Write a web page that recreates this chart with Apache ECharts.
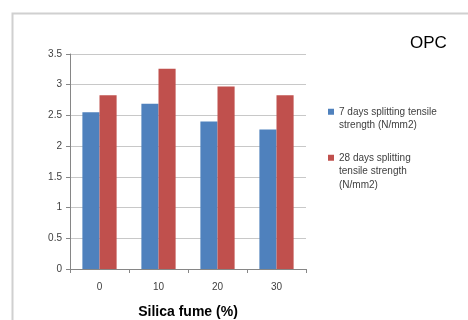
<!DOCTYPE html>
<html><head><meta charset="utf-8">
<script src="https://cdn.jsdelivr.net/npm/echarts@6/dist/echarts.min.js"></script>
<style>html,body{margin:0;padding:0;background:#fff}#c{width:468px;height:320px}</style>
</head><body><div id="c"></div>
<script>
var categories = ['0', '10', '20', '30'];
var days7 = [2.55, 2.69, 2.40, 2.27];
var days28 = [2.83, 3.26, 2.97, 2.83];
var seriesNames = ['7 days splitting tensile\nstrength (N/mm2)', '28 days splitting\ntensile strength\n(N/mm2)'];
var chartTitle = 'OPC';
var xTitle = 'Silica fume (%)';

var font = '"Liberation Sans", Arial, sans-serif';
var chart = echarts.init(document.getElementById('c'), null, {renderer: 'canvas'});
var legendText = {fontFamily: font, fontSize: 10, color: '#404040', lineHeight: 13.5};
function topAligned(name) {
  var n = name.split('\n').length;
  var pre = '';
  for (var i = 1; i < n; i++) pre += ' \n';
  return pre + name;
}
chart.setOption({
  animation: false,
  backgroundColor: '#fff',
  title: {
    text: chartTitle, left: 410, top: 35, padding: 0,
    textStyle: {fontFamily: font, fontSize: 17, fontWeight: 'normal', color: '#000'}
  },
  graphic: [{
    type: 'rect', left: 10, top: 11, silent: true,
    shape: {width: 480, height: 330},
    style: {fill: 'none', stroke: '#d0d0d0', lineWidth: 2}
  }],
  legend: [{
    data: [seriesNames[0]], orient: 'vertical', left: 328, top: 91.5, padding: 0,
    itemWidth: 6, itemHeight: 6, icon: 'rect', selectedMode: false,
    formatter: topAligned, textStyle: legendText
  }, {
    data: [seriesNames[1]], orient: 'vertical', left: 328, top: 124, padding: 0,
    itemWidth: 6, itemHeight: 6, icon: 'rect', selectedMode: false,
    formatter: topAligned, textStyle: legendText
  }],
  grid: {left: 70, right: 162, top: 54, bottom: 51, containLabel: false, outerBoundsMode: 'none'},
  xAxis: {
    type: 'category', data: categories,
    name: xTitle, nameLocation: 'middle', nameGap: 36,
    nameTextStyle: {fontFamily: font, fontSize: 14, fontWeight: 'bold', color: '#000'},
    axisLine: {lineStyle: {color: '#868686', width: 1}},
    axisTick: {show: true, length: 4, lineStyle: {color: '#868686'}},
    axisLabel: {fontFamily: font, fontSize: 10, color: '#404040', margin: 13}
  },
  yAxis: {
    type: 'value', min: 0, max: 3.5, interval: 0.5,
    axisLine: {show: true, lineStyle: {color: '#868686', width: 1}},
    axisTick: {show: true, length: 4, lineStyle: {color: '#868686'}},
    axisLabel: {fontFamily: font, fontSize: 10, color: '#404040', margin: 8},
    splitLine: {lineStyle: {color: '#c8c8c8', width: 1}}
  },
  series: [{
    name: seriesNames[0], type: 'bar', data: days7,
    itemStyle: {color: '#4F81BD'}, barGap: '0%', barCategoryGap: '42%'
  }, {
    name: seriesNames[1], type: 'bar', data: days28,
    itemStyle: {color: '#C0504D'}, barGap: '0%', barCategoryGap: '42%'
  }]
});
</script></body></html>
